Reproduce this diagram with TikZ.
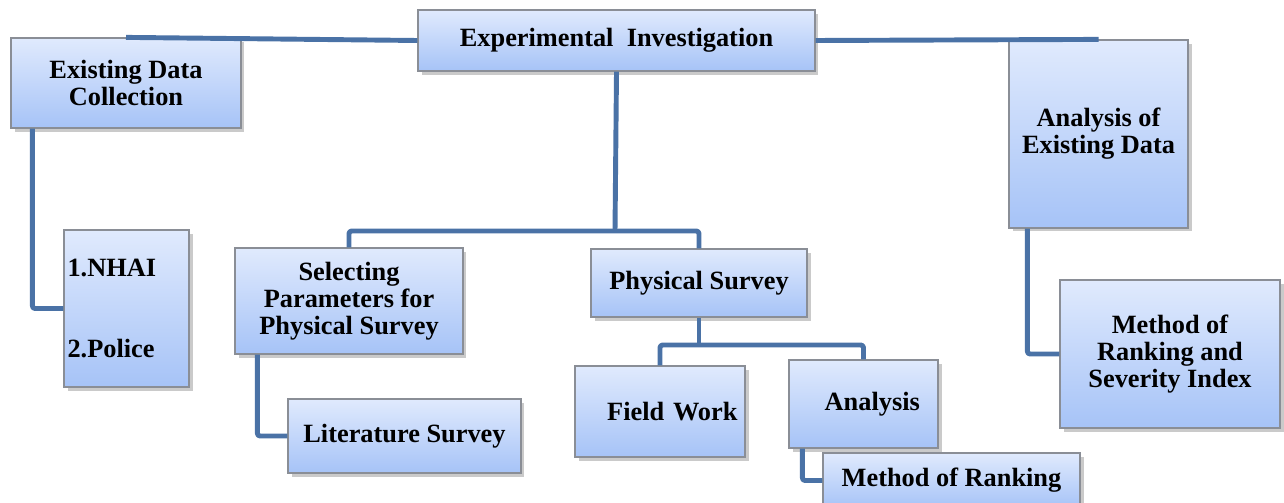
\documentclass[tikz,border=0pt]{standalone}
\usepackage{fontspec}
\setmainfont{Liberation Serif}
\usetikzlibrary{positioning, shadows, calc}

\definecolor{linkblue}{HTML}{4A72A6}
\definecolor{boxtop}{HTML}{E0EAFD}
\definecolor{boxbot}{HTML}{A6C3F7}
\definecolor{boxline}{HTML}{8A8E96}

\tikzset{
  box/.style={draw=boxline, line width=0.7pt, top color=boxtop, bottom color=boxbot,
    drop shadow={shadow xshift=2pt, shadow yshift=-2pt, opacity=0.35, fill=black!60},
    align=center, inner sep=2pt,
    font=\bfseries\fontsize{15}{15.5}\selectfont},
  link/.style={draw=linkblue, line width=2.8pt, rounded corners=1.5pt, line join=round}
}

\begin{document}
\begin{tikzpicture}[x=0.02cm, y=-0.02cm]
  \useasboundingbox (0,0) rectangle (1284,503);

  % boxes
  \node[box, minimum width=7.94cm, minimum height=1.22cm] (exp) at (616.5,40.5) {Experimental\ \ Investigation};
  \node[box, minimum width=4.6cm, minimum height=1.8cm] (edc) at (126,83) {Existing Data\\Collection};
  \node[box, minimum width=3.58cm, minimum height=3.76cm] (aed) at (1098.5,134) {Analysis of\\Existing Data};
  \node[box, minimum width=2.5cm, minimum height=3.14cm, text width=2.36cm, align=left] (src) at (126.5,308.5) {1.NHAI\\[31pt]2.Police};
  \node[box, minimum width=4.56cm, minimum height=2.12cm] (sps) at (349,301) {Selecting\\Parameters for\\Physical Survey};
  \node[box, minimum width=4.32cm, minimum height=1.36cm] (phs) at (699,283) {Physical Survey};
  \node[box, minimum width=4.66cm, minimum height=1.48cm] (lit) at (404.5,436) {Literature Survey};
  \node[box, minimum width=3.4cm, minimum height=1.82cm, text width=3.1cm, align=right] (fw) at (660,411.5) {Field Work};
  \node[box, minimum width=2.98cm, minimum height=1.76cm] (ana) at (863.5,404) {\hspace{10pt}Analysis};
  \node[box, minimum width=5.14cm, minimum height=1.1cm] (mor) at (951.5,480.5) {Method of Ranking};
  \node[box, minimum width=4.4cm, minimum height=2.96cm] (mrs) at (1170,354) {Method of\\Ranking and\\Severity Index};

  \coordinate (j1) at (615,231);
  \coordinate (j2) at (699,345);

  % links
  \draw[link] (edc.north) -- (exp.west);
  \draw[link] (exp.east) -- (aed.north);
  \draw[link] (exp.south) -- (j1);
  \draw[link] (sps.north) |- (j1) -| (phs.north);
  \draw[link] ($(edc.south west)+(22,0)$) |- (src.west);
  \draw[link] ($(aed.south west)+(19,0)$) |- (mrs.west);
  \draw[link] ($(sps.south west)+(23,0)$) |- (lit.west);
  \draw[link] (phs.south) -- (j2);
  \draw[link] (fw.north) |- (j2) -| (ana.north);
  \draw[link] ($(ana.south west)+(14,0)$) |- (mor.west);
\end{tikzpicture}
\end{document}
